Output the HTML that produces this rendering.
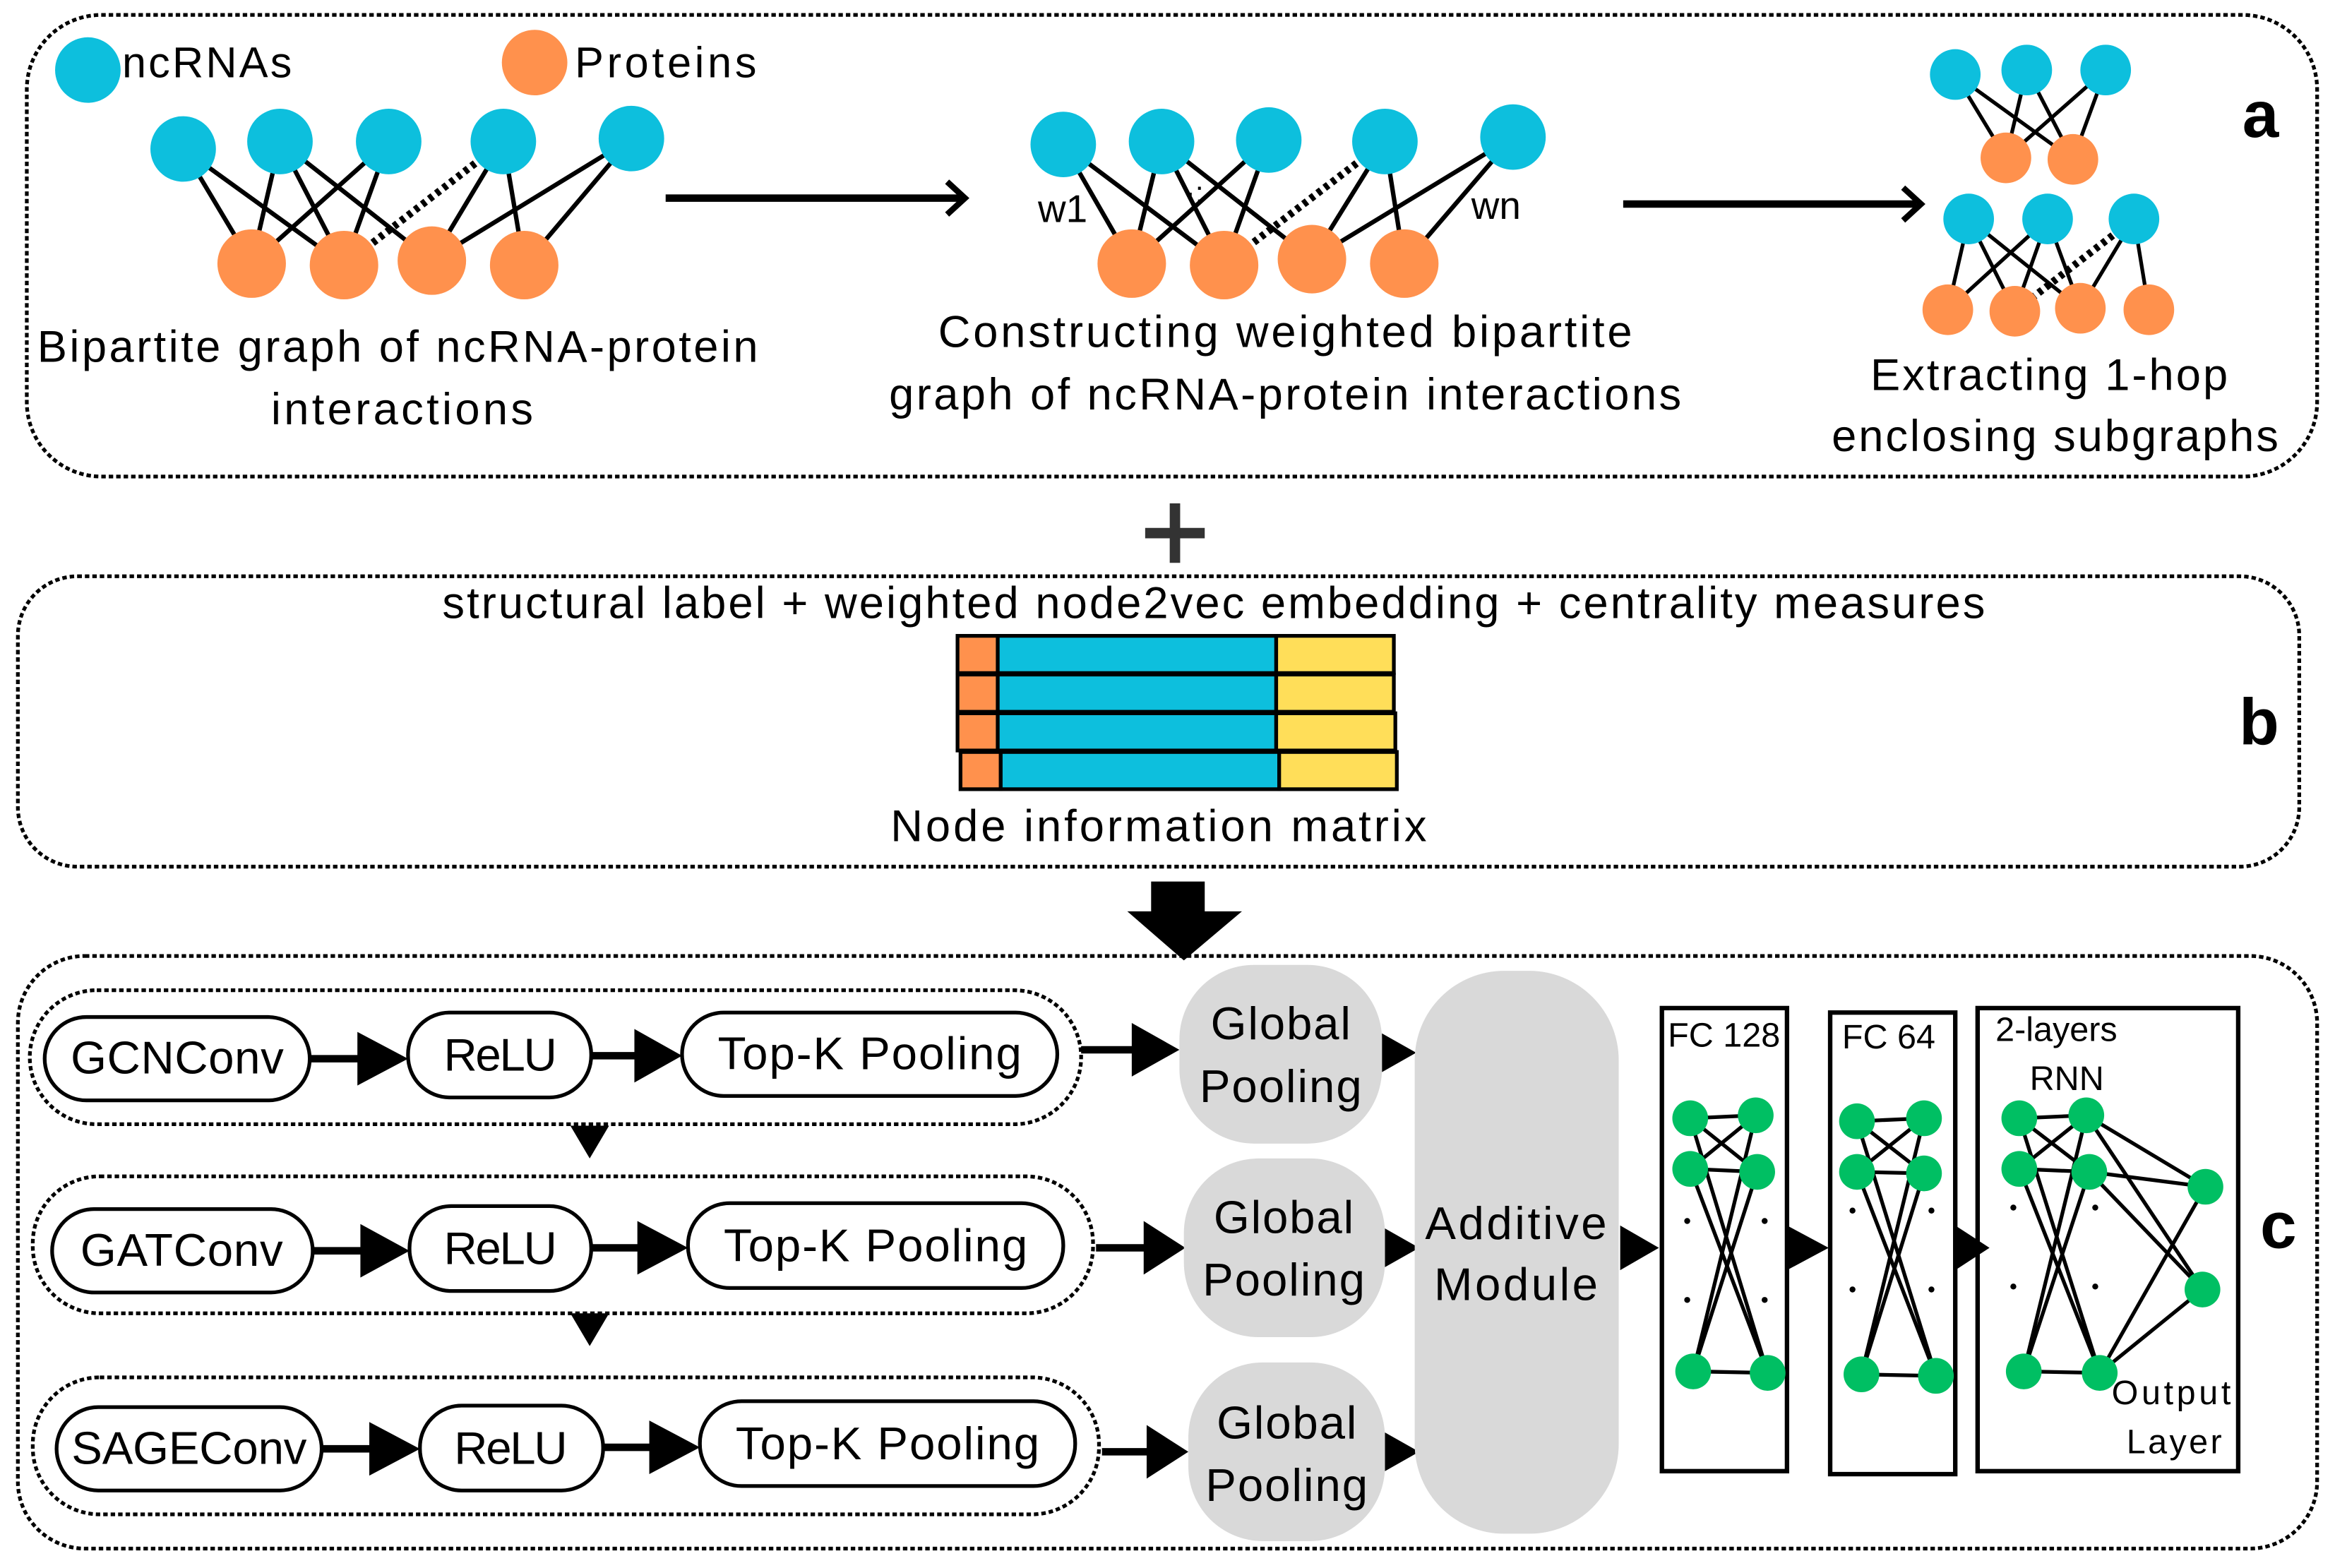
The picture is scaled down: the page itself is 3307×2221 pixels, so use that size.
<!DOCTYPE html>
<html><head><meta charset="utf-8"><style>html,body{margin:0;padding:0;background:#fff}svg{display:block}text{font-family:"Liberation Sans",sans-serif;fill:#000}</style></head><body>
<svg width="3307" height="2221" viewBox="0 0 1568 1053" xmlns="http://www.w3.org/2000/svg">
<!-- boxes -->
<g fill="none" stroke="#000" stroke-width="2.5" stroke-dasharray="3,2">
<rect x="18" y="10" width="1538" height="310" rx="50"/>
<rect x="12" y="387" width="1532" height="195" rx="40"/>
<rect x="12" y="642" width="1544" height="398" rx="45"/>
</g>
<!-- legend -->
<circle cx="59" cy="47" r="22" fill="#0dbfdd"/>
<text x="82" y="52" font-size="29" textLength="114">ncRNAs</text>
<circle cx="359" cy="42" r="22" fill="#ff914d"/>
<text x="386" y="52" font-size="29" textLength="122">Proteins</text>
<!-- graph1 -->
<g stroke="#000" stroke-width="3">
<line x1="123" y1="100" x2="169" y2="177"/><line x1="123" y1="100" x2="231" y2="178"/>
<line x1="188" y1="95" x2="169" y2="177"/><line x1="188" y1="95" x2="231" y2="178"/><line x1="188" y1="95" x2="290" y2="175"/>
<line x1="261" y1="95" x2="169" y2="177"/><line x1="261" y1="95" x2="231" y2="178"/>
<line x1="338" y1="95" x2="290" y2="175"/><line x1="338" y1="95" x2="352" y2="178"/>
<line x1="424" y1="93" x2="290" y2="175"/><line x1="424" y1="93" x2="352" y2="178"/>
<line x1="338" y1="95" x2="231" y2="178" stroke-width="5" stroke-dasharray="3,3"/>
</g>
<g fill="#0dbfdd"><circle cx="123" cy="100" r="22"/><circle cx="188" cy="95" r="22"/><circle cx="261" cy="95" r="22"/><circle cx="338" cy="95" r="22"/><circle cx="424" cy="93" r="22"/></g>
<g fill="#ff914d"><circle cx="169" cy="177" r="23"/><circle cx="231" cy="178" r="23"/><circle cx="290" cy="175" r="23"/><circle cx="352" cy="178" r="23"/></g>
<text x="267" y="243" font-size="30" text-anchor="middle" textLength="484">Bipartite graph of ncRNA-protein</text>
<text x="270" y="285" font-size="30" text-anchor="middle" textLength="176">interactions</text>
<!-- arrow1 -->
<line x1="447" y1="133" x2="645" y2="133" stroke="#000" stroke-width="5"/>
<polyline points="636,122 648,133 636,144" fill="none" stroke="#000" stroke-width="4"/>
<!-- graph2 -->
<g stroke="#000" stroke-width="3">
<line x1="714" y1="97" x2="760" y2="177"/><line x1="714" y1="97" x2="822" y2="178"/>
<line x1="780" y1="95" x2="760" y2="177"/><line x1="780" y1="95" x2="822" y2="178"/><line x1="780" y1="95" x2="881" y2="174"/>
<line x1="852" y1="94" x2="760" y2="177"/><line x1="852" y1="94" x2="822" y2="178"/>
<line x1="930" y1="95" x2="881" y2="174"/><line x1="930" y1="95" x2="943" y2="177"/>
<line x1="1016" y1="92" x2="881" y2="174"/><line x1="1016" y1="92" x2="943" y2="177"/>
<line x1="930" y1="95" x2="822" y2="178" stroke-width="5" stroke-dasharray="3,3"/>
</g>
<g fill="#0dbfdd"><circle cx="714" cy="97" r="22"/><circle cx="780" cy="95" r="22"/><circle cx="852" cy="94" r="22"/><circle cx="930" cy="95" r="22"/><circle cx="1016" cy="92" r="22"/></g>
<g fill="#ff914d"><circle cx="760" cy="177" r="23"/><circle cx="822" cy="178" r="23"/><circle cx="881" cy="174" r="23"/><circle cx="943" cy="177" r="23"/></g>
<text x="697" y="149" font-size="26">w1</text>
<text x="988" y="147" font-size="26">wn</text>
<text x="796" y="136" font-size="20">·:·</text>
<text x="863" y="233" font-size="30" text-anchor="middle" textLength="466">Constructing weighted bipartite</text>
<text x="863" y="275" font-size="30" text-anchor="middle" textLength="532">graph of ncRNA-protein interactions</text>
<!-- arrow2 -->
<line x1="1090" y1="137" x2="1287" y2="137" stroke="#000" stroke-width="5"/>
<polyline points="1278,126 1290,137 1278,148" fill="none" stroke="#000" stroke-width="4"/>
<!-- subgraphs -->
<g stroke="#000" stroke-width="2.5">
<line x1="1313" y1="50" x2="1347" y2="106"/><line x1="1313" y1="50" x2="1392" y2="107"/>
<line x1="1361" y1="47" x2="1347" y2="106"/><line x1="1361" y1="47" x2="1392" y2="107"/>
<line x1="1414" y1="47" x2="1347" y2="106"/><line x1="1414" y1="47" x2="1392" y2="107"/>
<line x1="1322" y1="147" x2="1308" y2="208"/><line x1="1322" y1="147" x2="1353" y2="209"/><line x1="1322" y1="147" x2="1397" y2="207"/>
<line x1="1375" y1="147" x2="1308" y2="208"/><line x1="1375" y1="147" x2="1353" y2="209"/><line x1="1375" y1="147" x2="1397" y2="207"/>
<line x1="1433" y1="147" x2="1443" y2="208"/><line x1="1433" y1="147" x2="1397" y2="207"/>
<line x1="1433" y1="147" x2="1353" y2="209" stroke-width="5" stroke-dasharray="3,3"/>
</g>
<g fill="#0dbfdd"><circle cx="1313" cy="50" r="17"/><circle cx="1361" cy="47" r="17"/><circle cx="1414" cy="47" r="17"/><circle cx="1322" cy="147" r="17"/><circle cx="1375" cy="147" r="17"/><circle cx="1433" cy="147" r="17"/></g>
<g fill="#ff914d"><circle cx="1347" cy="106" r="17"/><circle cx="1392" cy="107" r="17"/><circle cx="1308" cy="208" r="17"/><circle cx="1353" cy="209" r="17"/><circle cx="1397" cy="207" r="17"/><circle cx="1443" cy="208" r="17"/></g>
<text x="1376" y="262" font-size="30" text-anchor="middle" textLength="240">Extracting 1-hop</text>
<text x="1380" y="303" font-size="30" text-anchor="middle" textLength="300">enclosing subgraphs</text>
<text x="1518" y="92" font-size="44" font-weight="bold" text-anchor="middle">a</text>
<!-- plus -->
<line x1="769" y1="358" x2="809" y2="358" stroke="#333" stroke-width="7"/>
<line x1="789" y1="338" x2="789" y2="378" stroke="#333" stroke-width="7"/>
<!-- box b -->
<text x="815" y="415" font-size="30" text-anchor="middle" textLength="1036">structural label + weighted node2vec embedding + centrality measures</text>
<g stroke="#000" stroke-width="2.5">
<rect x="643" y="427" width="27" height="25" fill="#ff914d"/><rect x="670" y="427" width="187" height="25" fill="#0dbfdd"/><rect x="857" y="427" width="79" height="25" fill="#ffde59"/>
<rect x="643" y="453" width="27" height="25" fill="#ff914d"/><rect x="670" y="453" width="187" height="25" fill="#0dbfdd"/><rect x="857" y="453" width="79" height="25" fill="#ffde59"/>
<rect x="643" y="479" width="27" height="25" fill="#ff914d"/><rect x="670" y="479" width="187" height="25" fill="#0dbfdd"/><rect x="857" y="479" width="80" height="25" fill="#ffde59"/>
<rect x="645" y="505" width="27" height="25" fill="#ff914d"/><rect x="672" y="505" width="187" height="25" fill="#0dbfdd"/><rect x="859" y="505" width="79" height="25" fill="#ffde59"/>
</g>
<text x="778" y="565" font-size="30" text-anchor="middle" textLength="360">Node information matrix</text>
<text x="1517" y="500" font-size="44" font-weight="bold" text-anchor="middle">b</text>
<!-- big down arrow -->
<rect x="773" y="592" width="36" height="22" fill="#000"/>
<polygon points="757,612 834,612 795,645" fill="#000"/>
<!-- box c rows -->
<g fill="none" stroke="#000" stroke-width="2.5" stroke-dasharray="3,2">
<rect x="20" y="665" width="706" height="90" rx="45"/>
<rect x="22" y="790" width="712" height="92" rx="45"/>
<rect x="22" y="925" width="716" height="92" rx="45"/>
</g>
<g fill="#fff" stroke="#000" stroke-width="2.5">
<rect x="30" y="683" width="178" height="56" rx="28"/><rect x="274" y="680" width="123" height="57" rx="28"/><rect x="458" y="680" width="252" height="56" rx="28"/>
<rect x="35" y="812" width="175" height="56" rx="28"/><rect x="275" y="810" width="122" height="57" rx="28"/><rect x="462" y="808" width="252" height="57" rx="28"/>
<rect x="38" y="945" width="178" height="56" rx="28"/><rect x="282" y="944" width="123" height="57" rx="28"/><rect x="470" y="941" width="252" height="57" rx="28"/>
</g>
<g font-size="31" text-anchor="middle">
<text x="119" y="721" textLength="143">GCNConv</text><text x="336" y="719" textLength="76">ReLU</text><text x="584" y="718" textLength="204">Top-K Pooling</text>
<text x="122" y="850" textLength="136">GATConv</text><text x="336" y="849" textLength="76">ReLU</text><text x="588" y="847" textLength="204">Top-K Pooling</text>
<text x="127" y="983" textLength="158">SAGEConv</text><text x="343" y="983" textLength="76">ReLU</text><text x="596" y="980" textLength="204">Top-K Pooling</text>
</g>
<g stroke="#000" stroke-width="5">
<line x1="208" y1="711" x2="242" y2="711"/><line x1="397" y1="709" x2="428" y2="709"/>
<line x1="210" y1="840" x2="244" y2="840"/><line x1="397" y1="838" x2="430" y2="838"/>
<line x1="216" y1="973" x2="250" y2="973"/><line x1="405" y1="972" x2="438" y2="972"/>
<line x1="726" y1="705" x2="762" y2="705"/><line x1="736" y1="838" x2="770" y2="838"/><line x1="740" y1="975" x2="772" y2="975"/>
</g>
<g fill="#000">
<polygon points="240,693 274,711 240,729"/><polygon points="426,691 458,709 426,727"/>
<polygon points="242,822 275,840 242,858"/><polygon points="428,820 462,838 428,856"/>
<polygon points="248,955 282,973 248,991"/><polygon points="436,954 470,972 436,990"/>
<polygon points="760,687 792,705 760,723"/><polygon points="768,820 796,838 768,856"/><polygon points="770,957 798,975 770,993"/>
<polygon points="383,756 409,756 396,778"/><polygon points="383,882 409,882 396,904"/>
<polygon points="928,694 951,707 928,720"/><polygon points="930,825 953,838 930,851"/><polygon points="930,962 953,975 930,988"/>
<polygon points="1088,823 1114,838 1088,853"/><polygon points="1200,823 1228,838 1200,853"/><polygon points="1313,823 1336,838 1313,853"/>
</g>
<!-- global pooling -->
<g fill="#d9d9d9">
<rect x="792" y="648" width="136" height="120" rx="50"/>
<rect x="795" y="778" width="135" height="120" rx="50"/>
<rect x="798" y="915" width="132" height="120" rx="50"/>
<rect x="950" y="652" width="137" height="378" rx="60"/>
</g>
<g font-size="31" text-anchor="middle">
<text x="860" y="698" textLength="94">Global</text><text x="860" y="740" textLength="109">Pooling</text>
<text x="862" y="828" textLength="94">Global</text><text x="862" y="870" textLength="109">Pooling</text>
<text x="864" y="966" textLength="94">Global</text><text x="864" y="1008" textLength="109">Pooling</text>
<text x="1018" y="832" textLength="122">Additive</text><text x="1018" y="873" textLength="110">Module</text>
</g>
<!-- FC boxes -->
<g fill="none" stroke="#000" stroke-width="3">
<rect x="1116" y="677" width="84" height="311"/>
<rect x="1229" y="680" width="84" height="310"/>
<rect x="1328" y="677" width="175" height="311"/>
</g>
<g font-size="23">
<text x="1120" y="703">FC 128</text><text x="1237" y="704">FC 64</text>
<text x="1340" y="699">2-layers</text><text x="1363" y="732">RNN</text>
<text x="1418" y="943" textLength="80">Output</text><text x="1428" y="976" textLength="64">Layer</text>
</g>
<g stroke="#000" stroke-width="2.5">
<line x1="1135" y1="751" x2="1179" y2="749"/><line x1="1135" y1="785" x2="1180" y2="787"/><line x1="1135" y1="751" x2="1180" y2="787"/><line x1="1179" y1="749" x2="1135" y2="785"/>
<line x1="1135" y1="751" x2="1187" y2="922"/><line x1="1135" y1="785" x2="1187" y2="922"/><line x1="1179" y1="749" x2="1137" y2="921"/><line x1="1180" y1="787" x2="1137" y2="921"/><line x1="1137" y1="921" x2="1187" y2="922"/>
<line x1="1247" y1="753" x2="1292" y2="751"/><line x1="1247" y1="787" x2="1292" y2="788"/><line x1="1247" y1="753" x2="1292" y2="788"/><line x1="1292" y1="751" x2="1247" y2="787"/>
<line x1="1247" y1="753" x2="1300" y2="924"/><line x1="1247" y1="787" x2="1300" y2="924"/><line x1="1292" y1="751" x2="1250" y2="923"/><line x1="1292" y1="788" x2="1250" y2="923"/><line x1="1250" y1="923" x2="1300" y2="924"/>
<line x1="1356" y1="751" x2="1401" y2="749"/><line x1="1356" y1="785" x2="1403" y2="787"/><line x1="1356" y1="751" x2="1403" y2="787"/><line x1="1401" y1="749" x2="1356" y2="785"/>
<line x1="1356" y1="751" x2="1410" y2="922"/><line x1="1356" y1="785" x2="1410" y2="922"/><line x1="1401" y1="749" x2="1359" y2="921"/><line x1="1403" y1="787" x2="1359" y2="921"/><line x1="1359" y1="921" x2="1410" y2="922"/>
<line x1="1401" y1="749" x2="1481" y2="797"/><line x1="1403" y1="787" x2="1481" y2="797"/><line x1="1401" y1="749" x2="1479" y2="866"/><line x1="1403" y1="787" x2="1479" y2="866"/><line x1="1410" y1="922" x2="1481" y2="797"/><line x1="1410" y1="922" x2="1479" y2="866"/>
</g>
<g fill="#00bf63">
<circle cx="1135" cy="751" r="12"/><circle cx="1179" cy="749" r="12"/><circle cx="1135" cy="785" r="12"/><circle cx="1180" cy="787" r="12"/><circle cx="1137" cy="921" r="12"/><circle cx="1187" cy="922" r="12"/>
<circle cx="1247" cy="753" r="12"/><circle cx="1292" cy="751" r="12"/><circle cx="1247" cy="787" r="12"/><circle cx="1292" cy="788" r="12"/><circle cx="1250" cy="923" r="12"/><circle cx="1300" cy="924" r="12"/>
<circle cx="1356" cy="751" r="12"/><circle cx="1401" cy="749" r="12"/><circle cx="1356" cy="785" r="12"/><circle cx="1403" cy="787" r="12"/><circle cx="1359" cy="921" r="12"/><circle cx="1410" cy="922" r="12"/>
<circle cx="1481" cy="797" r="12"/><circle cx="1479" cy="866" r="12"/>
</g>
<g fill="#000">
<circle cx="1133" cy="820" r="2"/><circle cx="1185" cy="820" r="2"/><circle cx="1133" cy="873" r="2"/><circle cx="1185" cy="873" r="2"/>
<circle cx="1244" cy="813" r="2"/><circle cx="1297" cy="813" r="2"/><circle cx="1244" cy="866" r="2"/><circle cx="1297" cy="866" r="2"/>
<circle cx="1352" cy="811" r="2"/><circle cx="1407" cy="811" r="2"/><circle cx="1352" cy="864" r="2"/><circle cx="1407" cy="864" r="2"/>
</g>
<text x="1530" y="838" font-size="44" font-weight="bold" text-anchor="middle">c</text>
</svg>
</body></html>
